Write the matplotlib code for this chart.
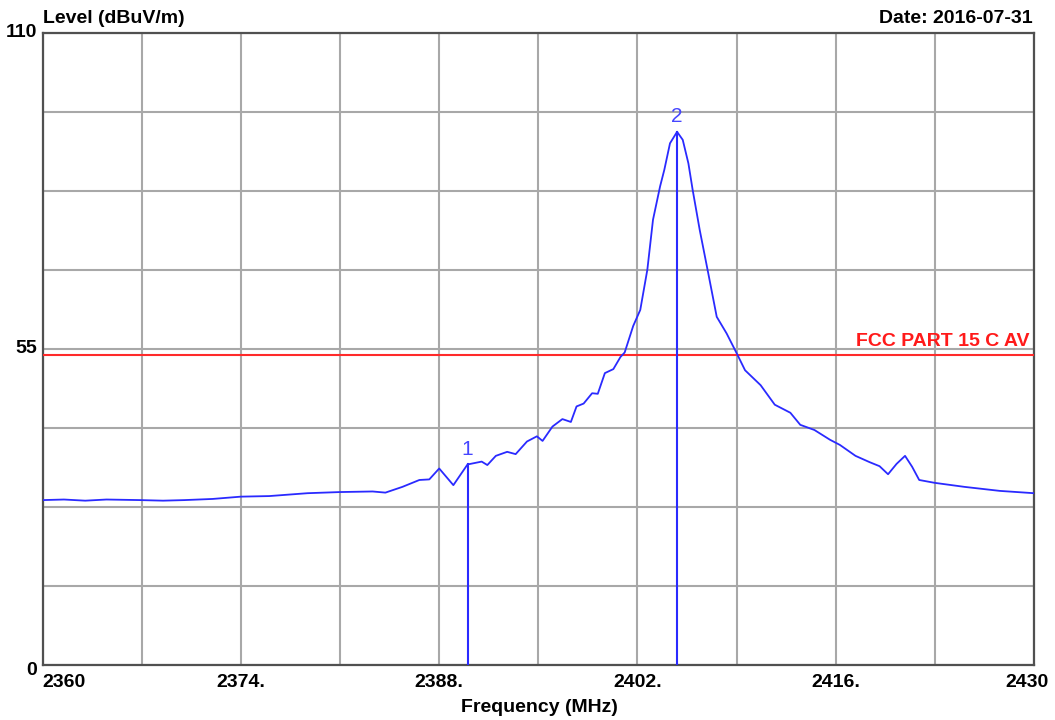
import numpy as np
import matplotlib
matplotlib.use("Agg")
import matplotlib.pyplot as plt

plt.rcParams['font.family'] = ['Liberation Sans', 'DejaVu Sans']

# trace (MHz, dBuV/m)
freq = [2360.0, 2361.5, 2363.0, 2364.5, 2366.9, 2368.5, 2370.0, 2372.0, 2374.0,
        2376.0, 2378.7, 2381.0, 2383.3, 2384.2, 2385.4, 2386.6, 2387.3, 2388.0,
        2389.0, 2390.0, 2391.0, 2391.4, 2392.0, 2392.8, 2393.4, 2394.2, 2394.9,
        2395.3, 2396.0, 2396.7, 2397.3, 2397.7, 2398.2, 2398.8, 2399.2, 2399.7,
        2400.3, 2400.8, 2401.1, 2401.7, 2402.2, 2402.7, 2403.1, 2403.6, 2403.9,
        2404.3, 2404.8, 2405.2, 2405.6, 2405.9, 2406.4, 2407.0, 2407.6, 2408.3,
        2409.0, 2409.6, 2410.7, 2411.7, 2412.8, 2413.5, 2414.5, 2415.6, 2416.3,
        2417.4, 2418.4, 2419.1, 2419.7, 2420.3, 2420.9, 2421.4, 2421.9, 2423.0,
        2425.1, 2427.6, 2430.0]
level = [28.7, 28.8, 28.6, 28.8, 28.7, 28.6, 28.7, 28.9, 29.3,
         29.4, 29.9, 30.1, 30.2, 30.0, 31.0, 32.2, 32.3, 34.2,
         31.3, 34.9, 35.4, 34.8, 36.4, 37.1, 36.7, 38.9, 39.8,
         39.0, 41.5, 42.8, 42.3, 45.0, 45.5, 47.3, 47.2, 50.8,
         51.5, 53.6, 54.4, 59.0, 61.8, 68.8, 77.5, 83.3, 86.2,
         90.8, 92.8, 91.4, 87.3, 82.7, 75.7, 68.2, 60.6, 57.7,
         54.3, 51.3, 48.7, 45.3, 43.9, 41.8, 40.9, 39.2, 38.3,
         36.4, 35.3, 34.6, 33.2, 35.0, 36.4, 34.5, 32.2, 31.7,
         31.0, 30.3, 29.9]

limit_level = 54.0
limit_name = "FCC PART 15 C AV"
marker_freq = [2390.0, 2404.8]
marker_level = [34.9, 92.8]
marker_names = ["1", "2"]

x_min, x_max = 2360, 2430
y_min, y_max = 0, 110
x_labels = {2360: "2360", 2374: "2374.", 2388: "2388.", 2402: "2402.",
            2416: "2416.", 2430: "2430"}
y_labels = {110: "110", 55: "55", 0: "0"}

fig = plt.figure(figsize=(10.55, 7.2), dpi=100)
ax = fig.add_axes([0.0405, 0.0764, 0.9395, 0.8778])

ax.set_xlim(x_min, x_max)
ax.set_ylim(y_min, y_max)
ax.set_xticks(np.arange(x_min, x_max + 0.1, 7))
ax.set_yticks(np.linspace(y_min, y_max, 9))
ax.set_xticklabels([])
ax.set_yticklabels([])
ax.tick_params(length=0)
ax.grid(True, color='#a8a8a8', linewidth=1.5)
ax.set_axisbelow(True)
for s in ax.spines.values():
    s.set_color('#505050')
    s.set_linewidth(1.6)

blue = '#2a2aff'
ax.axhline(limit_level, color='#ff2a2a', linewidth=1.5, zorder=3)
ax.plot(freq, level, color=blue, linewidth=1.3, zorder=4)
for mf, ml, mn in zip(marker_freq, marker_level, marker_names):
    ax.plot([mf, mf], [y_min, ml], color=blue, linewidth=1.5, zorder=4)
    ax.text(mf, ml + 1.0, mn, color='#4646ff', fontsize=15, ha='center', va='bottom')

ax.text(2429.7, limit_level + 0.9, limit_name, color='#ff1a1a', fontsize=14,
        fontweight='bold', ha='right', va='bottom')

tr = ax.get_xaxis_transform()
for xv, lab in x_labels.items():
    ha = 'center'
    xp = xv
    if xv == x_min:
        ha = 'left'
    if xv == x_max:
        xp = xv - 0.5
    ax.text(xp, -0.015, lab, transform=tr, ha=ha, va='top', fontsize=14,
            fontweight='bold')
for yv, lab in y_labels.items():
    dy = -1.0 if yv == 0 else 0
    ax.text(x_min - 0.4, yv + dy, lab, ha='right', va='center', fontsize=14,
            fontweight='bold')

fig.text(0.5115, 0.006, "Frequency (MHz)", ha='center', va='bottom', fontsize=14,
         fontweight='bold')
fig.text(0.0405, 0.963, "Level (dBuV/m)", ha='left', va='bottom', fontsize=14,
         fontweight='bold')
fig.text(0.979, 0.963, "Date: 2016-07-31", ha='right', va='bottom', fontsize=14,
         fontweight='bold')

fig.savefig("out.png", dpi=100)
